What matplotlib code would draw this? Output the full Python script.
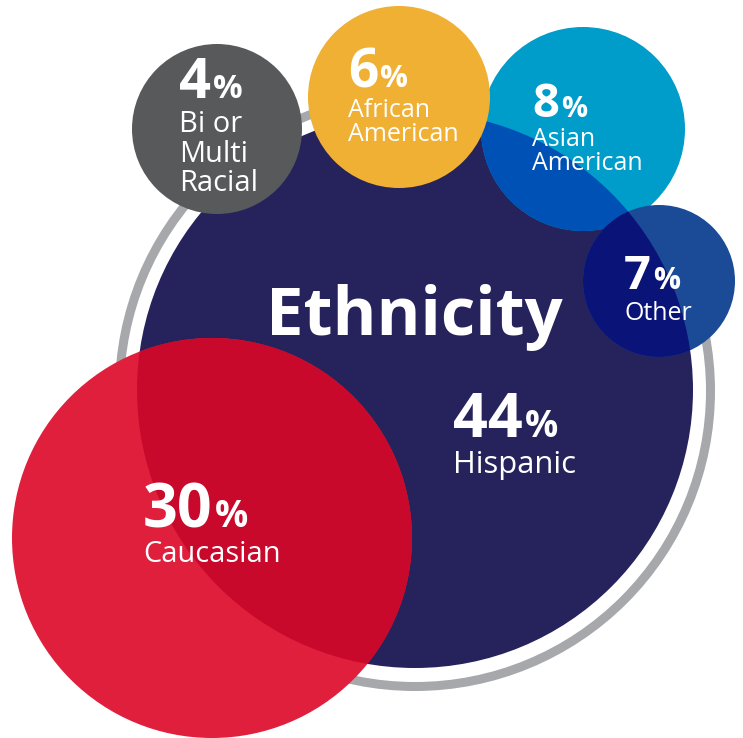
import matplotlib
matplotlib.use("Agg")
import matplotlib.pyplot as plt
from matplotlib.patches import Circle

# ---------------- data ----------------
title = "Ethnicity"
categories = ["Hispanic", "Caucasian", "Bi or\nMulti\nRacial",
              "African\nAmerican", "Asian\nAmerican", "Other"]
percentages = [44, 30, 4, 6, 8, 7]

# ---------------- layout (pixel canvas 743 x 738, y downward) ----------------
W, H = 743, 738
bubble_x = [415, 212, 217, 399, 583, 659]
bubble_y = [390, 538, 129, 97, 129, 281]
bubble_r = [278, 200, 85, 91, 102, 76]
bubble_color = ["#26235C", "#E01F3C", "#58595B", "#EFB034", "#009DCB", "#1B4B97"]
overlap_color = [None, "#C8092B", None, None, "#0051B6", "#0A1478"]  # where it sits on the big circle
z_order = [2, 3, 4, 6, 5, 7]

ring_center = (415, 391)
ring_radius = 295.5
ring_color = "#A7A8AB"

# label anchor: left x, number baseline, first label baseline, sizes (px)
text_x = [453, 143, 179, 348, 532, 624]
num_base = [437, 527, 98, 87, 117, 289]
lab_base = [473, 562, 132, 117, 146, 320]
num_px = [61, 61, 56, 53, 47, 47]
pct_px = [37, 37, 33, 31, 29, 30]
lab_px = [31, 29, 29, 25, 25, 25]
line_px = [30, 30, 29.5, 24, 24, 24]

FONT = ["Open Sans", "DejaVu Sans"]
PT = 72.0 / 100.0

fig = plt.figure(figsize=(W / 100, H / 100), dpi=100)
ax = fig.add_axes([0, 0, 1, 1])
ax.set_xlim(0, W)
ax.set_ylim(H, 0)
ax.axis("off")

# ring around the big circle
ax.add_patch(Circle(ring_center, ring_radius, fill=False, ec=ring_color,
                    lw=9 * PT, zorder=1))

for i in range(len(categories)):
    c = Circle((bubble_x[i], bubble_y[i]), bubble_r[i], fc=bubble_color[i],
               ec="none", zorder=z_order[i])
    ax.add_patch(c)
    if overlap_color[i]:
        o = Circle((bubble_x[i], bubble_y[i]), bubble_r[i], fc=overlap_color[i],
                   ec="none", zorder=z_order[i] + 0.1)
        ax.add_patch(o)
        o.set_clip_path(Circle((bubble_x[0], bubble_y[0]), bubble_r[0],
                               transform=ax.transData))

# title
ax.text(414, 335, title, fontsize=67 * PT, fontweight="bold", color="white",
        family=FONT, ha="center", va="baseline", zorder=10)

renderer = fig.canvas.get_renderer()
inv = ax.transData.inverted()
for i, (cat, val) in enumerate(zip(categories, percentages)):
    t = ax.text(text_x[i], num_base[i], f"{val}", fontsize=num_px[i] * PT,
                fontweight="bold", color="white", family=FONT,
                ha="left", va="baseline", zorder=10)
    bb = t.get_window_extent(renderer)
    x1 = inv.transform((bb.x1, bb.y0))[0]
    ax.text(x1 + 2, num_base[i], "%", fontsize=pct_px[i] * PT,
            fontweight="bold", color="white", family=FONT,
            ha="left", va="baseline", zorder=10)
    for k, line in enumerate(cat.split("\n")):
        ax.text(text_x[i], lab_base[i] + k * line_px[i], line,
                fontsize=lab_px[i] * PT, color="white", family=FONT,
                ha="left", va="baseline", zorder=10)

fig.savefig("out.png", dpi=100, facecolor="white")
